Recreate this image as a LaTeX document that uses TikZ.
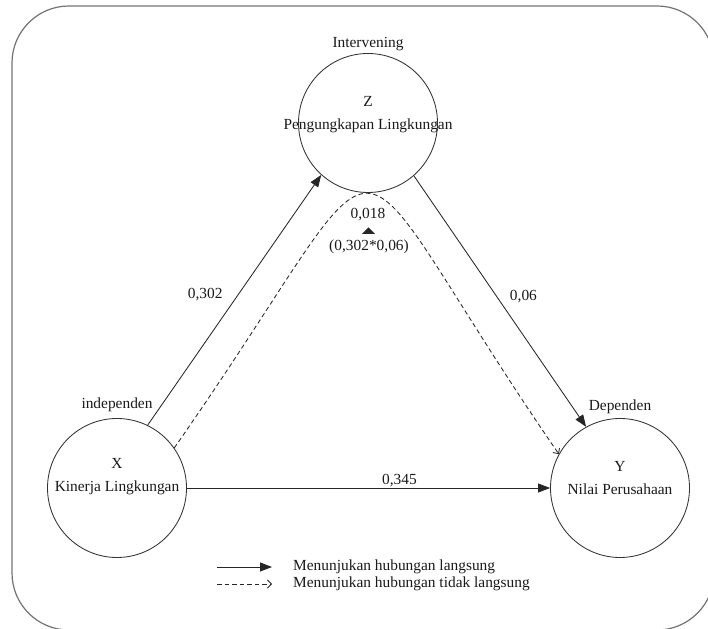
\documentclass[tikz,border=0pt]{standalone}
\usepackage{fontspec}
\setmainfont{Liberation Serif}
\usetikzlibrary{positioning}
\usetikzlibrary{arrows.meta}

\begin{document}
\begin{tikzpicture}
[x=1pt,y=1pt,
 font=\fontsize{15.4}{23}\selectfont,
 every label/.style={text=black!90},
 varcircle/.style={shape=circle,draw=black!80,line width=0.85pt,minimum size=139pt,inner sep=0pt},
 vartext/.style={align=center,text=black!90},
 coef/.style={inner sep=1pt,text=black!90},
 direct/.style={draw=black!85,line width=0.85pt,-{Triangle[length=12pt,width=9pt]}},
 indirect/.style={draw=black!85,line width=0.85pt,dash pattern=on 4.5pt off 3pt,-{Straight Barb[length=4pt,width=8pt]}}]

\useasboundingbox (0,0) rectangle (708,628);
\begin{scope}
\clip (0,0) rectangle (708,628);
\draw [black!55,line width=1.2pt,rounded corners=57pt] (12,-2) rectangle (714,622);
\end{scope}

\draw (368,505) node (z) [varcircle,label={[label distance=-1pt]above:Intervening}] {};
\draw (117,140) node (x) [varcircle,label={[label distance=3pt]above:independen}] {};
\draw (620,140) node (y) [varcircle,label={[label distance=1pt]above:Dependen}] {};

\node (zt) [vartext] at ([yshift=8pt]z.center) {Z\\Pengungkapan Lingkungan};
\node (xt) [vartext] at ([yshift=11pt]x.center) {X\\Kinerja Lingkungan};
\node (yt) [vartext] at ([yshift=10pt]y.center) {Y\\Nilai Perusahaan};

\draw [direct] (x.64) -- (z.228)
	node [coef,pos=0.52,left=14pt] {0,302};

\draw [direct] (z.-49) -- (y.119)
	node [coef,pos=0.48,right=12pt] {0,06};

\draw [direct] (x.east) -- (y.west)
	node [coef,pos=0.585,above=0pt] {0,345};

\draw [indirect] (x.35) .. controls (414,523) and (322,518) .. (y.151);

\draw (368,413) node (ind) [coef] {0,018};
\fill [black!85] (362,394) -- (375,394) -- (368.5,400.5) -- cycle;
\draw (369,381) node (prod) [coef] {(0,302*0,06)};

\draw (293,61) node (leg1) [anchor=west,inner sep=0pt,text=black!90] {Menunjukan hubungan langsung};
\draw (293,44) node (leg2) [anchor=west,inner sep=0pt,text=black!90] {Menunjukan hubungan tidak langsung};
\coordinate (a1) at ([xshift=-76pt]leg1.west);
\coordinate (a2) at ([xshift=-76pt]leg2.west);
\draw [direct] (a1) -- ([xshift=-21pt]leg1.west);
\draw [indirect] (a2) -- ([xshift=-21pt]leg2.west);

\end{tikzpicture}
\end{document}
